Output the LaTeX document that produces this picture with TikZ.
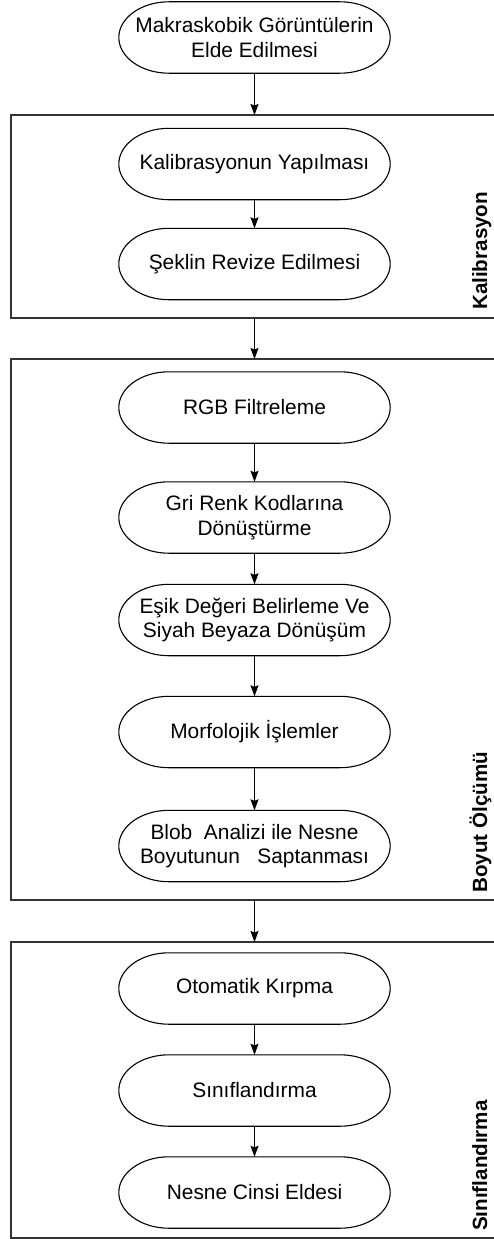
\documentclass[tikz,border=0pt]{standalone}
\usepackage{fontspec}
\setmainfont{Liberation Sans}
\usetikzlibrary{arrows.meta,calc}
\begin{document}
\begin{tikzpicture}[x=1pt,y=-1pt,
  box/.style={draw=none,minimum width=271pt,minimum height=71pt,inner sep=0pt,align=center,
    font=\fontsize{20.9}{24.5}\selectfont},
  outline/.style={line width=1.1pt,black},
  container/.style={draw=black!80,line width=1.3pt,inner sep=0pt},
  lane/.style={rotate=90,anchor=base west,inner sep=0pt,font=\fontsize{20.6}{24}\selectfont\bfseries},
  flow/.style={line width=1.1pt,-{Stealth[length=11pt,width=8pt,inset=1.5pt]}}]
\useasboundingbox (0,0) rectangle (494,1239);
% containers
\draw[container] (11,115) rectangle (500,318);
\draw[container] (11,359) rectangle (500,900);
\draw[container] (11,942) rectangle (500,1238);
\coordinate (c1n) at (254.5,115);
\coordinate (c1s) at (254.5,318);
\coordinate (c2n) at (254.5,359);
\coordinate (c2s) at (254.5,900);
\coordinate (c3n) at (254.5,942);
% nodes
\node[box] (n1) at (254.5,37.5) {Makraskobik Görüntülerin\\Elde Edilmesi};
\node[box] (n2) at (254.5,164) {Kalibrasyonun Yapılması};
\node[box] (n3) at (254.5,264) {Şeklin Revize Edilmesi};
\node[box] (n4) at (254.5,407.5) {RGB Filtreleme};
\node[box] (n5) at (254.5,517.5) {Gri Renk Kodlarına\\Dönüştürme};
\node[box] (n6) at (254.5,620) {Eşik Değeri Belirleme Ve\\Siyah Beyaza Dönüşüm};
\node[box] (n7) at (254.5,732) {Morfolojik İşlemler};
\node[box] (n8) at (254.5,846) {Blob\ \ Analizi ile Nesne\\Boyutunun\ \ \ Saptanması};
\node[box] (n9) at (254.5,988.5) {Otomatik Kırpma};
\node[box] (n10) at (254.5,1090.5) {Sınıflandırma};
\node[box] (n11) at (254.5,1192.5) {Nesne Cinsi Eldesi};
\foreach \n in {n1,n2,n3,n4,n5,n6,n7,n8,n9,n10,n11}{
  \draw[outline]
    ($(\n.north east)+(-50,0)$) .. controls ($(\n.north east)+(-22.4,0)$) and ($(\n.east)+(0,-19.6)$) .. (\n.east)
    .. controls ($(\n.east)+(0,19.6)$) and ($(\n.south east)+(-22.4,0)$) .. ($(\n.south east)+(-50,0)$)
    -- ($(\n.south west)+(50,0)$)
    .. controls ($(\n.south west)+(22.4,0)$) and ($(\n.west)+(0,19.6)$) .. (\n.west)
    .. controls ($(\n.west)+(0,-19.6)$) and ($(\n.north west)+(22.4,0)$) .. ($(\n.north west)+(50,0)$)
    -- cycle;
}
% lane labels
\node[lane] (l1) at (487,310) {Kalibrasyon};
\node[lane] (l2) at (487,893) {Boyut Ölçümü};
\node[lane] (l3) at (487,1231) {Sınıflandırma};
% connectors
\draw[flow] (n1.south) -- (c1n);
\draw[flow] (n2.south) -- (n3.north);
\draw[flow] (c1s) -- (c2n);
\draw[flow] (n4.south) -- (n5.north);
\draw[flow] (n5.south) -- (n6.north);
\draw[flow] (n6.south) -- (n7.north);
\draw[flow] (n7.south) -- (n8.north);
\draw[flow] (c2s) -- (c3n);
\draw[flow] (n9.south) -- (n10.north);
\draw[flow] (n10.south) -- (n11.north);
\end{tikzpicture}
\end{document}
